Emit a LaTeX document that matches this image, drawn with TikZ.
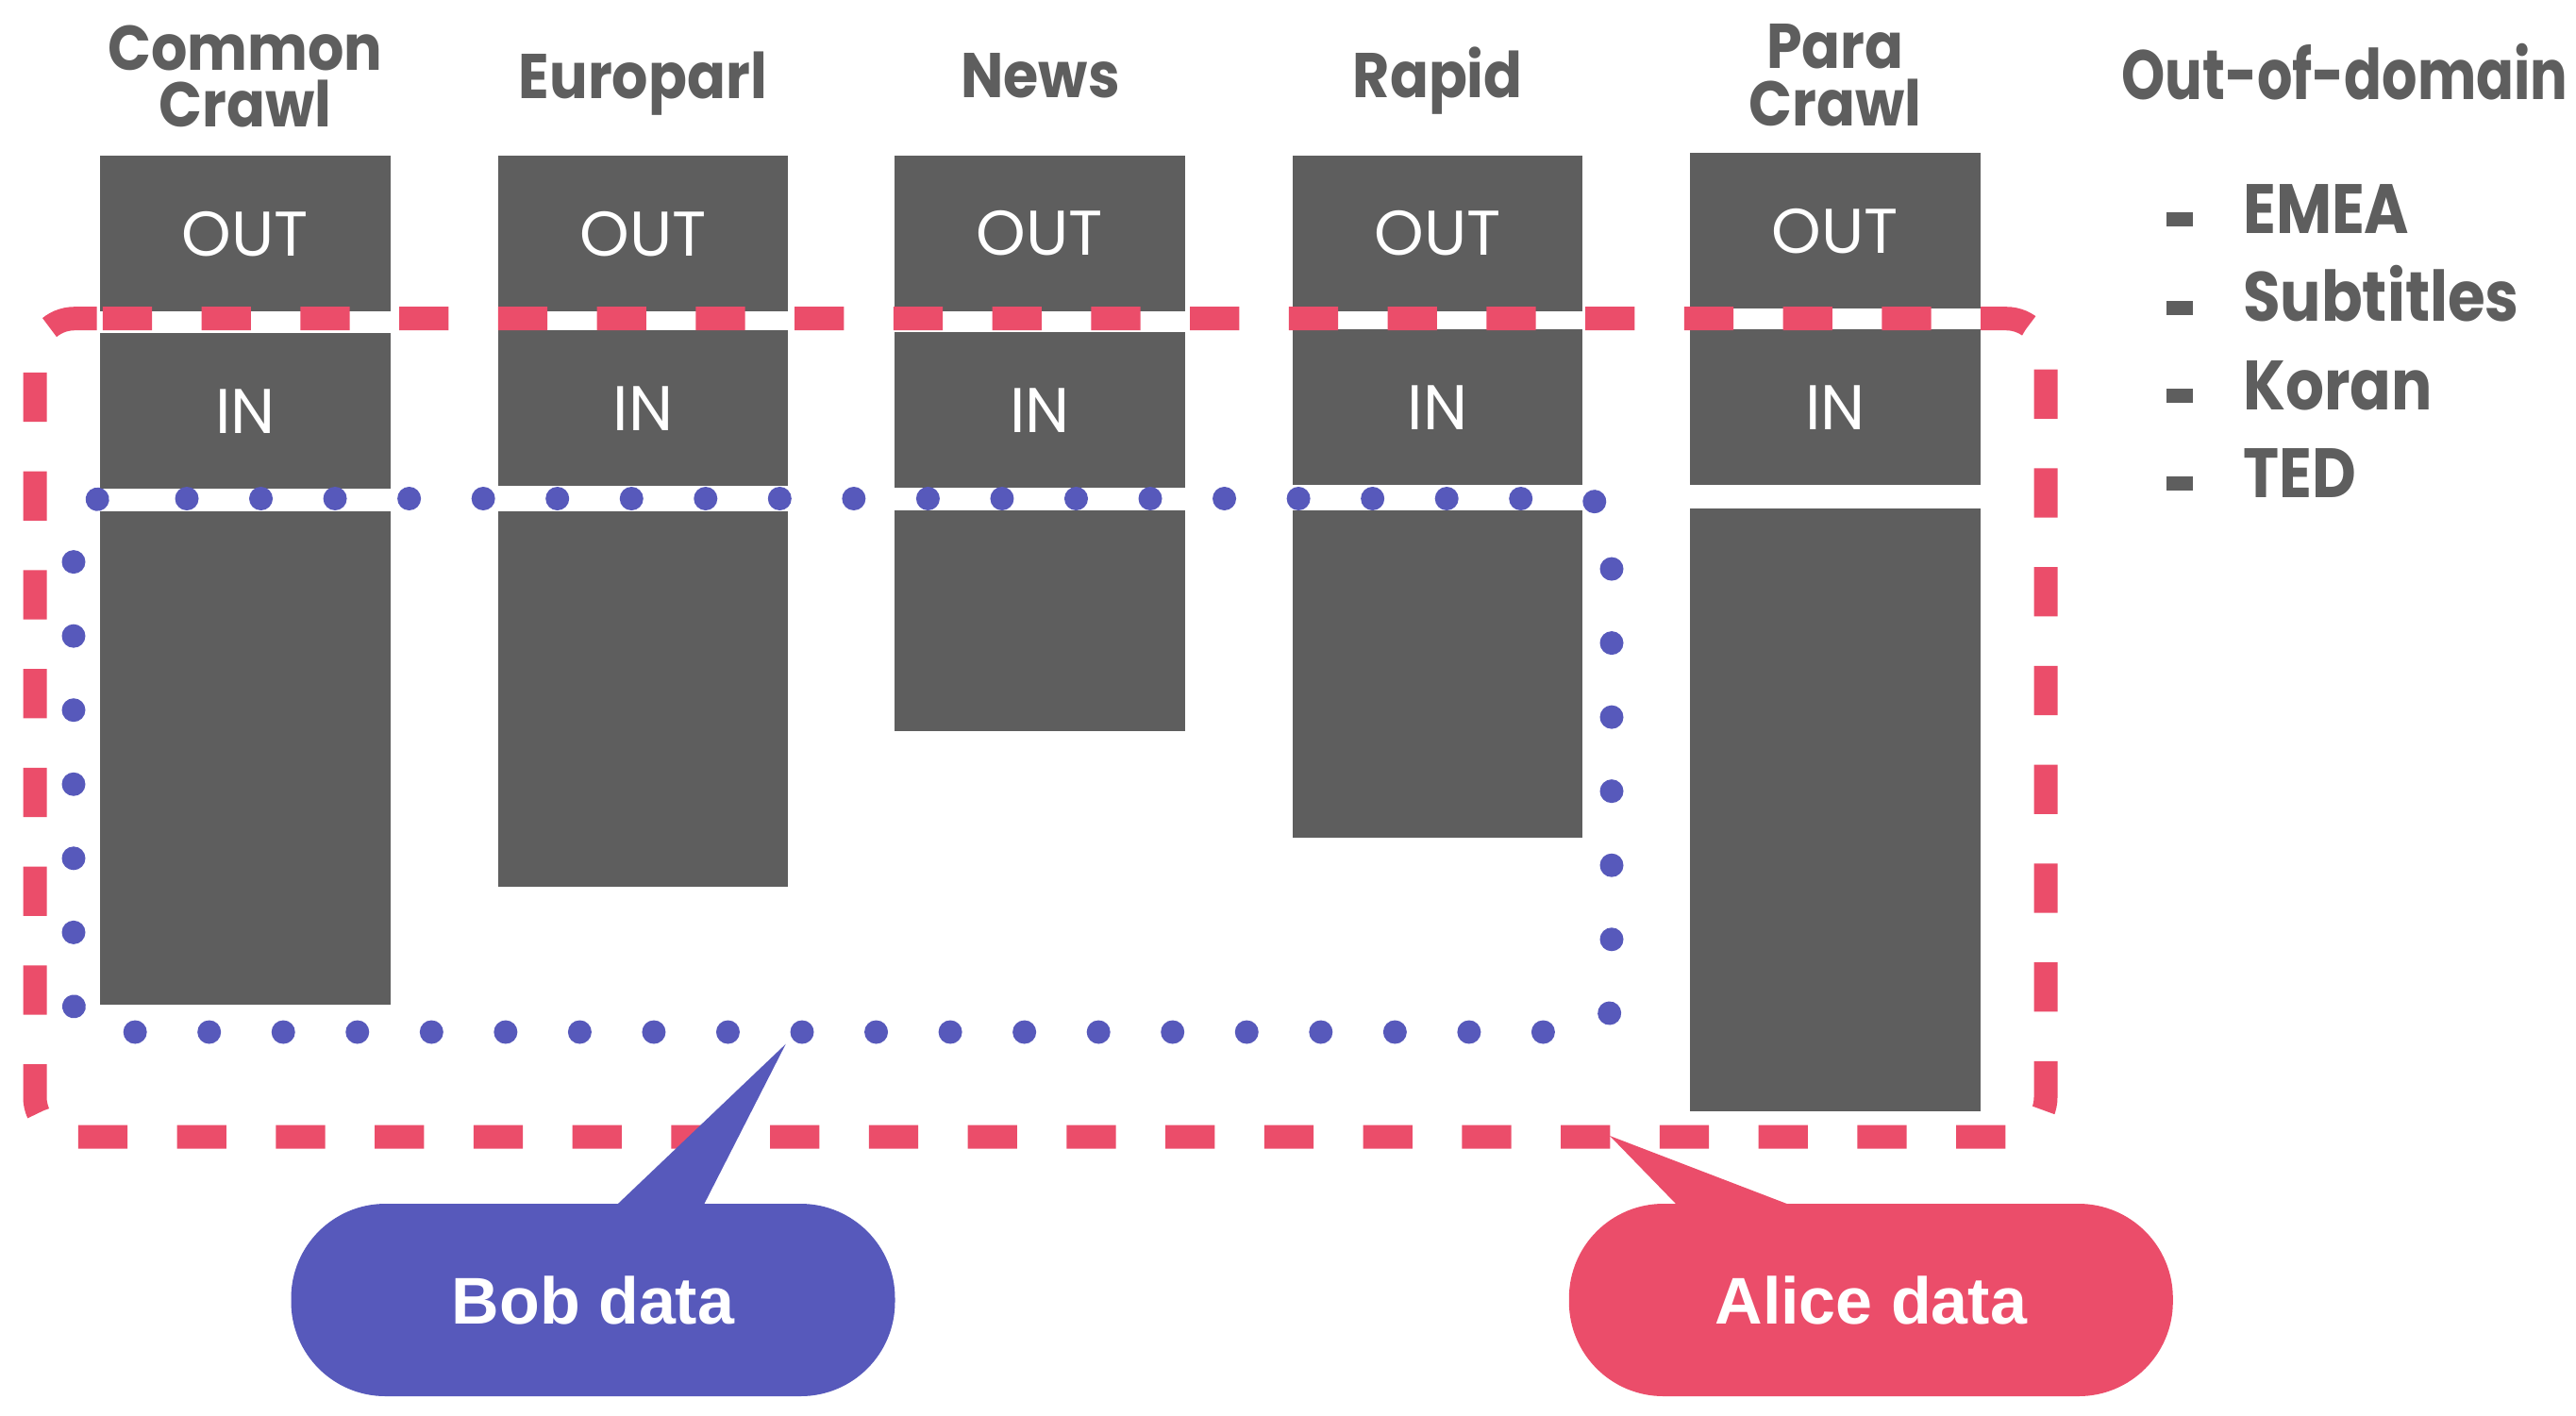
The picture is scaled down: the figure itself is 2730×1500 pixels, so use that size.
\documentclass[tikz,border=0pt]{standalone}
\usepackage{fontspec}
\newfontfamily\popfont{Poppins}
\newfontfamily\titlefont{Poppins}[FakeStretch=0.9]
\newfontfamily\legfont{Poppins}[FakeStretch=0.87]
\newfontfamily\oodfont{Poppins}[FakeStretch=0.795]
\newfontfamily\arialfont{Liberation Sans}
\definecolor{boxgray}{HTML}{5E5E5E}
\definecolor{alicered}{HTML}{EB4D6A}
\definecolor{bobblue}{HTML}{5759BB}
\begin{document}
\begin{tikzpicture}[x=1pt,y=-1pt,
  coltitle/.style={text=boxgray, inner sep=0pt, align=center, anchor=base,
    font=\titlefont\bfseries\fontsize{67}{60.5}\selectfont},
  part/.style={rectangle, fill=boxgray, draw=none, inner sep=0pt,
    text=white, anchor=north west, minimum width=307.5pt,
    font=\popfont\fontsize{67}{67}\selectfont},
  legtitle/.style={text=boxgray, inner sep=0pt, anchor=base west,
    font=\oodfont\bfseries\fontsize{74}{74}\selectfont},
  legitem/.style={text=boxgray, inner sep=0pt, anchor=base west,
    font=\legfont\bfseries\fontsize{74}{74}\selectfont},
  legbullet/.style={rectangle, fill=boxgray, inner sep=0pt,
    minimum width=28pt, minimum height=15pt},
  bubble/.style={rectangle, rounded corners=100pt, inner sep=0pt,
    minimum width=640pt, minimum height=204pt, text=white,
    text depth=0pt,
    font=\arialfont\bfseries\fontsize{70}{70}\selectfont},
  alicebox/.style={draw=alicered, line width=25pt,
    dash pattern=on 52.4pt off 52.35pt, rounded corners=42pt},
  bobbox/.style={draw=bobblue, line width=25pt, line cap=round,
    dash pattern=on 0.01pt off 78.53pt, rounded corners=32pt}
]
\useasboundingbox (0,0) rectangle (2730,1500);

% columns: OUT / IN / remaining part
\foreach \n/\x/\ot/\it/\bt/\bb in {
  1/106/165/353/541.5/1065,
  2/527.5/165/350/541.5/940,
  3/948/164.5/352/540.7/775,
  4/1369.5/164.5/349/540.7/888,
  5/1791/162/349/539.2/1177.7}{
  \node[part, minimum height=165pt] (out\n) at (\x,\ot) {OUT};
  \node[part, minimum height=165pt] (in\n) at (\x,\it) {IN};
  \pgfmathsetmacro\hh{\bb-\bt}
  \node[part, minimum height=\hh pt] (rest\n) at (\x,\bt) {};
}

% column titles
\node[coltitle] (tcc) at (260,134.7) {Common\\Crawl};
\node[coltitle] (teu) at (681.3,104) {Europarl};
\node[coltitle] (tnw) at (1102.5,103.5) {News};
\node[coltitle] (trp) at (1523.7,103.5) {Rapid};
\node[coltitle] (tpc) at (1945,133.2) {Para\\Crawl};

% legend
\node[legtitle] (ood) at (2248,105) {Out-of-domain};
\foreach \k/\t in {0/EMEA,1/Subtitles,2/Koran,3/TED}{
  \node[legbullet] (lb\k) at (2310,{232.7+93.3*\k}) {};
  \node[legitem] (li\k) at (2377,{247.6+93.3*\k}) {\t};
}

% Alice group (red dashed)
\path[alicebox] (108.75,337.7) -- (2168,337.7) -- (2168,1205)
  -- (37,1205) -- (37,337.7) -- (108.75,337.7);

% Bob group (blue dotted)
\path[bobbox] (198,528.5) -- (1708,528.5) -- (1708,1094)
  -- (78,1094) -- (78,528.5) -- (170,528.5);

% callouts
\node[bubble, fill=bobblue] (bob) at (628.5,1378) {Bob data};
\node[bubble, fill=alicered] (alice) at (1982.8,1378) {Alice data};
\coordinate (bobtip) at (832.7,1106.7);
\coordinate (alicetip) at (1706,1204);
\fill[bobblue] ([xshift=23.5pt,yshift=-3pt]bob.north) -- (bobtip)
  -- ([xshift=116.5pt,yshift=-3pt]bob.north) -- cycle;
\fill[alicered] ([xshift=-204.1pt,yshift=-3pt]alice.north) -- (alicetip)
  -- ([xshift=-81.8pt,yshift=-3pt]alice.north) -- cycle;
\end{tikzpicture}
\end{document}
